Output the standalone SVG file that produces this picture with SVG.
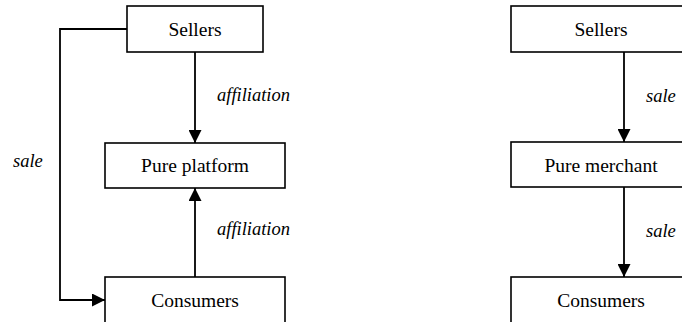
<svg xmlns="http://www.w3.org/2000/svg" width="682" height="322" viewBox="0 0 682 322">
<style>
.box{fill:#fff;stroke:#000;stroke-width:1.6}
.t{font-family:"Liberation Serif","Times New Roman",serif;font-size:19.5px;text-anchor:middle;fill:#000}
.l{font-family:"Liberation Serif","Times New Roman",serif;font-size:18.5px;font-style:italic;fill:#000}
.c{fill:none;stroke:#000;stroke-width:1.8}
</style>
<defs>
<marker id="ah" viewBox="0 0 13 13" refX="13" refY="6.5" markerWidth="13" markerHeight="13" markerUnits="userSpaceOnUse" orient="auto">
<path d="M0,0 L13,6.5 L0,13 Z" fill="#000"/>
</marker>
</defs>
<g id="connectors">
<path class="c" d="M195,52 V143" marker-end="url(#ah)"/>
<path class="c" d="M195,277 V188" marker-end="url(#ah)"/>
<path class="c" d="M127,29 H60 V300 H105" marker-end="url(#ah)"/>
<path class="c" d="M624,52 V142" marker-end="url(#ah)"/>
<path class="c" d="M624,187 V277" marker-end="url(#ah)"/>
<text class="l" x="217" y="101">affiliation</text>
<text class="l" x="217" y="235">affiliation</text>
<text class="l" x="13" y="167">sale</text>
<text class="l" x="646" y="102">sale</text>
<text class="l" x="646" y="237">sale</text>
</g>
<g id="sellers-left">
<rect class="box" x="127" y="6" width="136" height="46"/>
<text class="t" x="195" y="36">Sellers</text>
</g>
<g id="pure-platform">
<rect class="box" x="105" y="143" width="180" height="45"/>
<text class="t" x="195" y="172">Pure platform</text>
</g>
<g id="consumers-left">
<rect class="box" x="105" y="277" width="180" height="55"/>
<text class="t" x="195" y="307">Consumers</text>
</g>
<g id="sellers-right">
<rect class="box" x="511" y="6" width="181" height="46"/>
<text class="t" x="601" y="36">Sellers</text>
</g>
<g id="pure-merchant">
<rect class="box" x="511" y="142" width="181" height="45"/>
<text class="t" x="601" y="172">Pure merchant</text>
</g>
<g id="consumers-right">
<rect class="box" x="511" y="277" width="181" height="55"/>
<text class="t" x="601" y="307">Consumers</text>
</g>
</svg>
